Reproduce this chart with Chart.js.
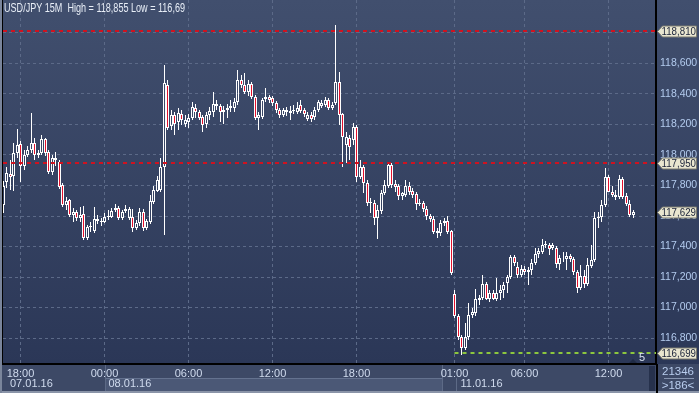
<!DOCTYPE html>
<html>
<head>
<meta charset="utf-8">
<script src="https://cdn.jsdelivr.net/npm/chart.js@4.4.0/dist/chart.umd.min.js"></script>
<style>
  html, body { margin: 0; padding: 0; background: #3c4865; }
</style>
</head>
<body>
<canvas id="myChart" width="699" height="393"></canvas>
<script>
// USD/JPY 15M candles, 07.01.16 16:45 -> 11.01.16 13:45
const opens = [
  117.672,117.823,117.875,117.862,118.013,118.072,117.928,118.000,118.033,118.079,
  118.000,118.013,118.105,118.020,117.889,117.980,117.954,117.803,117.672,117.705,
  117.607,117.626,117.587,117.613,117.456,117.528,117.502,117.580,117.567,117.561,
  117.593,117.593,117.639,117.652,117.587,117.633,117.587,117.593,117.521,117.554,
  117.626,117.521,117.561,117.692,117.764,117.770,117.921,118.459,118.190,118.262,
  118.216,118.269,118.203,118.216,118.243,118.308,118.282,118.249,118.203,118.262,
  118.282,118.334,118.321,118.282,118.295,118.308,118.308,118.348,118.492,118.459,
  118.413,118.466,118.380,118.243,118.249,118.367,118.380,118.374,118.341,118.295,
  118.262,118.295,118.275,118.289,118.282,118.328,118.295,118.236,118.262,118.249,
  118.295,118.321,118.328,118.361,118.308,118.341,118.479,118.269,118.066,118.111,
  118.098,118.184,117.856,117.921,117.816,117.685,117.685,117.587,117.633,117.751,
  117.797,117.934,117.810,117.797,117.731,117.738,117.797,117.764,117.744,117.679,
  117.685,117.646,117.600,117.580,117.502,117.489,117.554,117.567,117.502,117.089,
  116.944,116.807,116.735,116.807,116.951,116.964,117.049,117.062,117.154,117.056,
  117.095,117.056,117.095,117.115,117.161,117.200,117.331,117.266,117.213,117.252,
  117.233,117.246,117.292,117.351,117.364,117.410,117.410,117.390,117.390,117.285,
  117.325,117.318,117.338,117.318,117.233,117.128,117.207,117.154,117.272,117.312,
  117.587,117.593,117.672,117.856,117.757,117.738,117.725,117.843,117.731,117.679,117.607
];
const highs = [
  117.830,117.921,117.967,118.079,118.170,118.092,118.033,118.059,118.275,118.111,
  118.033,118.131,118.111,118.033,118.000,118.020,117.967,117.816,117.725,117.711,
  117.652,117.639,117.659,117.666,117.541,117.561,117.659,117.607,117.587,117.620,
  117.639,117.652,117.679,117.666,117.639,117.672,117.659,117.646,117.574,117.652,
  117.646,117.580,117.738,117.797,117.862,117.980,118.590,118.492,118.295,118.282,
  118.308,118.295,118.262,118.269,118.348,118.334,118.295,118.262,118.282,118.315,
  118.413,118.361,118.334,118.321,118.334,118.361,118.374,118.557,118.525,118.538,
  118.492,118.479,118.393,118.282,118.374,118.439,118.393,118.387,118.354,118.308,
  118.308,118.315,118.321,118.328,118.348,118.361,118.308,118.282,118.282,118.315,
  118.361,118.361,118.380,118.374,118.348,118.855,118.544,118.275,118.151,118.131,
  118.210,118.197,117.967,117.934,117.836,117.718,117.705,117.672,117.770,117.836,
  117.948,117.948,117.836,117.810,117.757,117.836,117.823,117.784,117.757,117.711,
  117.698,117.666,117.613,117.600,117.521,117.574,117.587,117.600,117.508,117.115,
  116.957,116.820,116.898,117.030,116.997,117.121,117.082,117.213,117.167,117.115,
  117.115,117.193,117.148,117.167,117.213,117.344,117.344,117.298,117.279,117.272,
  117.266,117.318,117.390,117.390,117.449,117.436,117.423,117.423,117.403,117.344,
  117.364,117.364,117.351,117.331,117.246,117.279,117.246,117.325,117.410,117.626,
  117.626,117.705,117.915,117.869,117.797,117.770,117.869,117.856,117.751,117.705,117.639
];
const lows = [
  117.620,117.784,117.770,117.764,117.980,117.823,117.902,117.987,118.013,117.967,
  117.980,118.000,117.993,117.875,117.869,117.928,117.777,117.659,117.639,117.593,
  117.561,117.567,117.561,117.443,117.443,117.495,117.489,117.548,117.534,117.554,
  117.574,117.587,117.626,117.574,117.574,117.620,117.574,117.495,117.508,117.534,
  117.502,117.508,117.548,117.679,117.757,117.757,117.475,118.164,118.164,118.131,
  118.164,118.197,118.184,118.177,118.229,118.243,118.229,118.151,118.177,118.229,
  118.249,118.295,118.216,118.203,118.243,118.282,118.282,118.328,118.439,118.400,
  118.387,118.367,118.229,118.164,118.236,118.348,118.341,118.321,118.275,118.243,
  118.249,118.256,118.229,118.269,118.269,118.275,118.249,118.223,118.216,118.229,
  118.282,118.308,118.315,118.295,118.295,118.328,118.197,117.921,117.948,117.967,
  118.066,117.823,117.843,117.751,117.666,117.620,117.541,117.449,117.613,117.738,
  117.784,117.784,117.757,117.705,117.705,117.725,117.738,117.718,117.639,117.666,
  117.626,117.574,117.561,117.482,117.456,117.469,117.534,117.482,117.213,116.931,
  116.787,116.690,116.721,116.787,116.931,116.944,117.016,117.049,117.049,117.036,
  117.049,117.043,117.049,117.062,117.095,117.187,117.272,117.193,117.200,117.213,
  117.148,117.213,117.279,117.325,117.351,117.390,117.344,117.377,117.259,117.246,
  117.298,117.246,117.298,117.213,117.095,117.115,117.128,117.141,117.259,117.298,
  117.521,117.561,117.659,117.757,117.725,117.705,117.711,117.711,117.666,117.593,117.587
];
const closes = [
  117.797,117.882,117.856,118.013,118.066,117.928,118.000,118.033,118.079,118.000,
  118.013,118.105,118.013,117.889,117.980,117.967,117.790,117.672,117.698,117.607,
  117.626,117.587,117.607,117.456,117.528,117.534,117.580,117.567,117.561,117.593,
  117.600,117.633,117.652,117.587,117.626,117.646,117.646,117.521,117.554,117.626,
  117.521,117.567,117.698,117.770,117.836,117.921,118.472,118.177,118.262,118.203,
  118.275,118.229,118.229,118.243,118.315,118.282,118.243,118.197,118.262,118.289,
  118.334,118.321,118.282,118.295,118.308,118.321,118.348,118.492,118.459,118.413,
  118.466,118.380,118.243,118.262,118.361,118.380,118.361,118.341,118.295,118.262,
  118.295,118.282,118.289,118.295,118.308,118.289,118.269,118.262,118.236,118.295,
  118.348,118.341,118.361,118.308,118.328,118.479,118.262,118.118,118.118,118.052,
  118.184,117.856,117.921,117.816,117.685,117.692,117.587,117.639,117.751,117.803,
  117.934,117.803,117.790,117.731,117.751,117.797,117.757,117.738,117.679,117.685,
  117.646,117.600,117.580,117.495,117.489,117.554,117.567,117.495,117.226,116.944,
  116.807,116.735,116.807,116.951,116.971,117.056,117.062,117.154,117.056,117.095,
  117.056,117.095,117.115,117.148,117.200,117.331,117.292,117.213,117.252,117.233,
  117.246,117.292,117.351,117.371,117.410,117.416,117.384,117.410,117.285,117.325,
  117.325,117.338,117.318,117.233,117.128,117.207,117.154,117.279,117.312,117.587,
  117.593,117.672,117.856,117.757,117.738,117.725,117.843,117.725,117.679,117.607,117.629
];

// axis labels
const timeTicks = [5, 29, 53, 77, 101, 129, 149, 173];
const timeLabels = ['18:00', '00:00', '06:00', '12:00', '18:00', '01:00', '06:00', '12:00'];
const dayStarts = [0, 29, 129];
const dayLabels = ['07.01.16', '08.01.16', '11.01.16'];
const priceTicks = [116.8, 117.0, 117.2, 117.4, 117.6, 117.8, 118.0, 118.2, 118.4, 118.6, 118.8];

// levels and markers
const redLevels = [118.810, 117.950];
const lowLevel = 116.699;
const lowFrom = 129;
const priceTags = [118.810, 117.950, 117.629, 116.699];
const title = 'USD/JPY 15M  High = 118,855 Low = 116,69';

const FONT = '"Liberation Sans", Arial, sans-serif';
const fmt = v => v.toFixed(3).replace('.', ',');

const idx = opens.map((_, i) => i);
const bodies = idx.map(i => ({x: i, y: [opens[i], closes[i]]}));
const upperWicks = idx.map(i => ({x: i, y: [Math.max(opens[i], closes[i]), highs[i]]}));
const lowerWicks = idx.map(i => ({x: i, y: [lows[i], Math.min(opens[i], closes[i])]}));
const bodyFill = idx.map(i => closes[i] < opens[i] ? '#e3102c' : 'rgba(0,0,0,0)');

// snap bars on whole pixels so candles stay crisp
const snap = {
  id: 'snap',
  afterDatasetsUpdate(chart) {
    chart.data.datasets.forEach((ds, d) => {
      chart.getDatasetMeta(d).data.forEach(el => {
        el.x = Math.floor(el.x) + 0.5;
        el.y = Math.round(el.y);
        el.base = Math.round(el.base);
      });
    });
  }
};

const frame = {
  id: 'frame',
  beforeDraw(chart) {
    const {ctx, chartArea: a, width, height, scales} = chart;
    ctx.save();
    const g = ctx.createLinearGradient(0, 0, 0, a.bottom);
    g.addColorStop(0, '#414f6e');
    g.addColorStop(1, '#2b3757');
    ctx.fillStyle = g;
    ctx.fillRect(0, 0, width, a.bottom);

    ctx.fillStyle = '#3d4966';
    ctx.fillRect(0, a.bottom, width, height - a.bottom);
    // date box of 08.01 on the second row
    const x0 = Math.round(scales.x.getPixelForValue(dayStarts[1]));
    const x1 = Math.round(scales.x.getPixelForValue(dayStarts[2])) - 13;
    const x2 = Math.round(scales.x.getPixelForValue(dayStarts[2])) + 1;
    ctx.fillStyle = '#4b5876';
    ctx.fillRect(x0, 378, x1 - x0, height - 380);
    ctx.fillStyle = '#64728f';
    ctx.fillRect(x0, 378, x1 - x0, 1);
    ctx.fillStyle = '#5d6a86';
    ctx.fillRect(x0, a.bottom, 1, height - a.bottom - 2);
    ctx.fillRect(x1, a.bottom, 1, height - a.bottom - 2);
    ctx.fillRect(x2, 378, 1, height - 380);
    ctx.fillStyle = '#26314c';
    ctx.fillRect(649, 366, 6, height - 368);
    ctx.fillStyle = '#8a94a8';
    ctx.fillRect(0, height - 2, width, 2);
    ctx.restore();
  },
  afterDatasetsDraw(chart) {
    const {ctx, chartArea: a, scales} = chart;
    ctx.save();
    ctx.lineWidth = 2;
    ctx.setLineDash([4, 4]);
    ctx.strokeStyle = '#d0121f';
    redLevels.forEach(v => {
      const y = Math.round(scales.y.getPixelForValue(v));
      ctx.beginPath();
      ctx.moveTo(a.left, y);
      ctx.lineTo(a.right, y);
      ctx.stroke();
    });
    ctx.strokeStyle = '#8cc63e';
    const yl = Math.round(scales.y.getPixelForValue(lowLevel));
    ctx.beginPath();
    ctx.moveTo(scales.x.getPixelForValue(lowFrom), yl);
    ctx.lineTo(a.right, yl);
    ctx.stroke();
    ctx.setLineDash([]);
    ctx.fillStyle = '#1f2a44';
    ctx.beginPath();
    ctx.moveTo(629, 363);
    ctx.lineTo(633, 359);
    ctx.lineTo(637, 363);
    ctx.fill();
    ctx.fillStyle = '#d8e0ee';
    ctx.font = '11px ' + FONT;
    ctx.textBaseline = 'middle';
    ctx.fillText('5', 639, 358);
    ctx.restore();
  },
  afterDraw(chart) {
    const {ctx, chartArea: a, width, height, scales} = chart;
    ctx.save();
    // frame lines
    ctx.fillStyle = '#000000';
    ctx.fillRect(2, 0, 1, a.bottom);
    ctx.fillRect(a.right, a.bottom, 2, height - a.bottom);
    ctx.fillStyle = '#7a859b';
    ctx.fillRect(0, 0, 2, height);

    ctx.font = '12px ' + FONT;
    ctx.textBaseline = 'middle';
    ctx.fillStyle = '#e8eef7';
    ctx.fillText(title, 4, 9, 181);

    // price tags
    ctx.font = '10.5px ' + FONT;
    priceTags.forEach(v => {
      const y = Math.round(scales.y.getPixelForValue(v)) + 0.5;
      const x0 = a.right + 1.5;
      ctx.beginPath();
      ctx.moveTo(x0, y);
      ctx.lineTo(x0 + 5, y - 5.5);
      ctx.lineTo(width - 2.5, y - 5.5);
      ctx.lineTo(width - 2.5, y + 5.5);
      ctx.lineTo(x0 + 5, y + 5.5);
      ctx.closePath();
      ctx.fillStyle = '#e9e6d0';
      ctx.fill();
      ctx.strokeStyle = '#7b7b70';
      ctx.lineWidth = 1;
      ctx.stroke();
      ctx.fillStyle = '#1a2238';
      ctx.fillText(fmt(v), x0 + 4, y + 0.5, width - x0 - 7);
    });

    // dates
    ctx.font = '11px ' + FONT;
    ctx.fillStyle = '#d0dbee';
    dayStarts.forEach((d, i) => {
      const x = i === 0 ? 10 : scales.x.getPixelForValue(d) + (i === 2 ? 6 : 4);
      ctx.fillText(dayLabels[i], x, 384);
    });

    // corner box
    ctx.font = '11.5px ' + FONT;
    ctx.fillStyle = '#b9cdee';
    ctx.textAlign = 'center';
    ctx.fillText('21346', 678, 372);
    ctx.fillText('>186<', 678, 386);
    ctx.fillStyle = '#8795b0';
    ctx.fillRect(664, 378, 30, 1);
    ctx.restore();
  }
};

const wickStyle = {
  type: 'bar', backgroundColor: '#ffffff', borderWidth: 0, barThickness: 1,
  grouped: false, order: 2, inflateAmount: 0
};

new Chart(document.getElementById('myChart'), {
  type: 'bar',
  data: {
    datasets: [
      Object.assign({data: upperWicks}, wickStyle),
      Object.assign({data: lowerWicks}, wickStyle),
      {
        data: bodies,
        backgroundColor: bodyFill,
        borderColor: '#ffffff',
        borderWidth: 1,
        borderSkipped: false,
        barThickness: 3,
        grouped: false,
        order: 1,
        inflateAmount: 0
      }
    ]
  },
  options: {
    responsive: false,
    animation: false,
    events: [],
    layout: { padding: { left: 3, top: 0, right: 0, bottom: 0 } },
    plugins: { legend: { display: false }, tooltip: { enabled: false } },
    scales: {
      x: {
        type: 'linear',
        offset: false,
        min: 0,
        max: 186.57,
        afterBuildTicks: s => { s.ticks = timeTicks.map(v => ({value: v})); },
        afterFit: s => { s.height = 29; s.paddingLeft = 0; s.paddingRight = 0; },
        grid: { color: '#5c6a88', lineWidth: 1, drawTicks: false, offset: false },
        border: { display: true, color: '#000000', width: 2, dash: [3, 3] },
        ticks: {
          autoSkip: false,
          maxRotation: 0,
          padding: 3,
          color: '#d0dbee',
          font: { size: 11, family: FONT },
          callback: (v, i) => timeLabels[i]
        }
      },
      y: {
        type: 'linear',
        position: 'right',
        min: 116.63,
        max: 119.016,
        afterBuildTicks: s => { s.ticks = priceTicks.map(v => ({value: v})); },
        afterFit: s => { s.width = 43; s.paddingTop = 0; s.paddingBottom = 0; },
        grid: { color: '#5c6a88', lineWidth: 1, drawTicks: false },
        border: { display: true, color: '#000000', width: 2, dash: [3, 3] },
        ticks: {
          padding: 4,
          color: '#b3cbee',
          font: { size: 10.5, family: FONT },
          callback: v => fmt(v)
        }
      }
    }
  },
  plugins: [snap, frame]
});
</script>
</body>
</html>
